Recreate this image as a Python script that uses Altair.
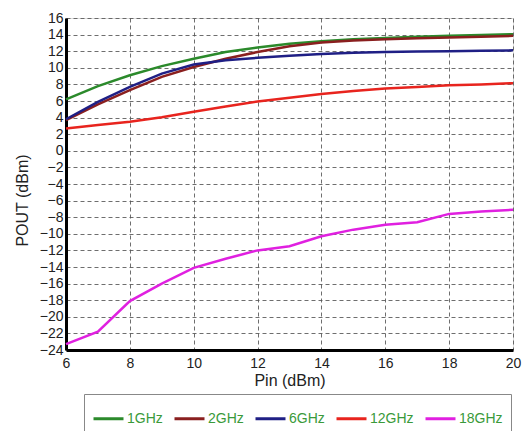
import altair as alt
import pandas as pd

pin = list(range(6, 21))
series_names = ["1GHz", "2GHz", "6GHz", "12GHz", "18GHz"]
g1 = [6.2, 7.8, 9.1, 10.2, 11.1, 11.9, 12.45, 12.9, 13.2, 13.45, 13.6, 13.75, 13.85, 13.95, 14.05]
g2 = [3.7, 5.6, 7.3, 8.9, 10.1, 11.1, 11.9, 12.6, 13.05, 13.3, 13.45, 13.55, 13.65, 13.75, 13.85]
g6 = [3.8, 5.9, 7.7, 9.3, 10.4, 10.9, 11.2, 11.45, 11.65, 11.8, 11.9, 11.95, 12.0, 12.05, 12.1]
g12 = [2.7, 3.1, 3.5, 4.05, 4.7, 5.35, 5.95, 6.4, 6.85, 7.2, 7.5, 7.7, 7.9, 8.0, 8.15]
g18 = [-23.3, -21.8, -18.1, -16.0, -14.1, -13.0, -12.0, -11.5, -10.3, -9.5, -8.9, -8.6, -7.6, -7.3, -7.1]
colors = ["#2b8a2b", "#8a1f1f", "#1f1f85", "#e8241e", "#e020e0"]
x_ticks = list(range(6, 21, 2))
y_ticks = list(range(-24, 17, 2))

rows = []
for name, vals in zip(series_names, [g1, g2, g6, g12, g18]):
    for p, v in zip(pin, vals):
        rows.append({"Pin": p, "POUT": v, "Series": name})
df = pd.DataFrame(rows)

FONT = "Liberation Sans"
GRID = dict(grid=True, gridColor="#555555", gridDash=[4, 3], gridWidth=1,
            gridOpacity=0.85, domainColor="black", domainWidth=3,
            labelColor="#222222", titleColor="#222222", labelFont=FONT,
            titleFont=FONT, titleFontWeight="normal", ticks=False, labelFlush=False)

chart = alt.Chart(df).mark_line(strokeWidth=2.5).encode(
    x=alt.X("Pin:Q", scale=alt.Scale(domain=[6, 20], nice=False),
            axis=alt.Axis(values=x_ticks, title="Pin (dBm)",
                          labelPadding=6, labelFontSize=14,
                          titleFontSize=16, titlePadding=2, **GRID)),
    y=alt.Y("POUT:Q", scale=alt.Scale(domain=[-24, 16], nice=False),
            axis=alt.Axis(values=y_ticks, title="POUT (dBm)",
                          labelPadding=3, labelFontSize=14,
                          titleFontSize=16, titleX=-44, titleY=182,
                          titleAngle=-90, titleAlign="center", titleBaseline="middle",
                          **GRID)),
    color=alt.Color("Series:N", sort=series_names,
                    scale=alt.Scale(domain=series_names, range=colors),
                    legend=alt.Legend(title=None, orient="none", direction="horizontal",
                                      legendX=18, legendY=376,
                                      symbolType="stroke", symbolSize=900,
                                      symbolStrokeWidth=3, labelFontSize=14,
                                      labelFont=FONT,
                                      labelColor="#3a9a3a", labelOffset=2,
                                      columnPadding=5, padding=8,
                                      strokeColor="#888888", fillColor="white")),
    order=alt.Order("Series:N"),
).properties(
    width=447, height=332,
    autosize=alt.AutoSizeParams(type="none"),
    padding={"left": 66, "top": 18, "right": 12, "bottom": 81},
).configure_view(
    stroke="black", strokeWidth=2
).configure(background="white")

chart.save("out.html", embed_options={"renderer": "svg", "actions": False})
